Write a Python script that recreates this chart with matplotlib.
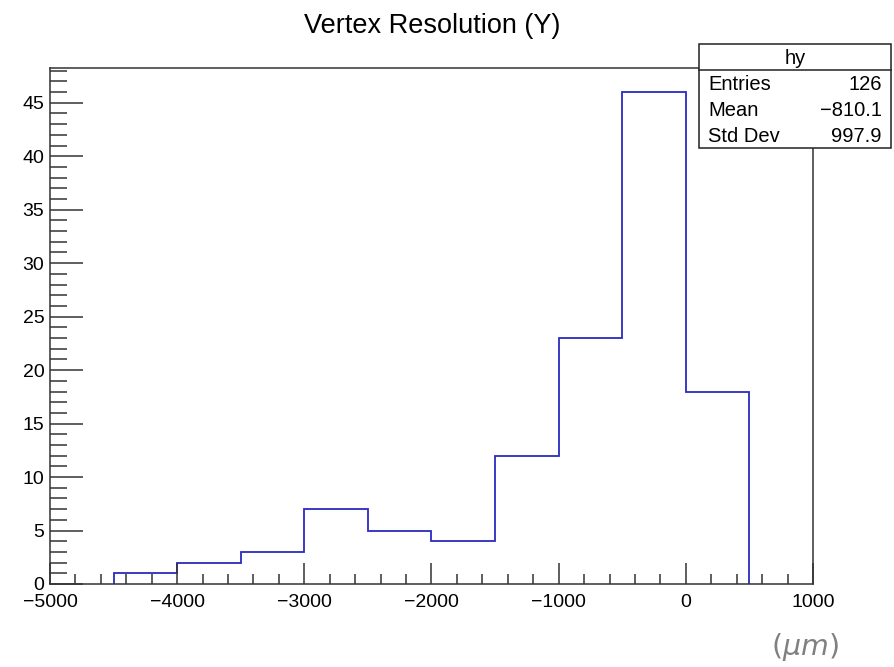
import matplotlib
matplotlib.use("Agg")
import matplotlib.pyplot as plt
import numpy as np
from matplotlib.ticker import MultipleLocator
from matplotlib.patches import Rectangle
from matplotlib.lines import Line2D

bin_edges = [-4500, -4000, -3500, -3000, -2500, -2000, -1500, -1000, -500, 0, 500]
counts = [1, 2, 3, 7, 5, 4, 12, 23, 46, 18]
stats_labels = ["Entries", "Mean", "Std Dev"]
stats_values = ["126", "\u2212810.1", "997.9"]
title = "Vertex Resolution (Y)"
hist_name = "hy"

W, H = 895, 667
plt.rcParams['font.family'] = ['Liberation Sans', 'DejaVu Sans']
fig = plt.figure(figsize=(W / 100, H / 100), dpi=100)

L, R, T, B = 50, 813, 67.5, 584
ax = fig.add_axes([L / W, 1 - B / H, (R - L) / W, (B - T) / H])
ax.stairs(counts, bin_edges, color='#2b2bbf', linewidth=1.3, baseline=0, fill=False)
ax.set_xlim(-5000, 1000)
ax.set_ylim(0, 48.3)
ax.xaxis.set_major_locator(MultipleLocator(1000))
ax.xaxis.set_minor_locator(MultipleLocator(200))
ax.yaxis.set_major_locator(MultipleLocator(5))
ax.yaxis.set_minor_locator(MultipleLocator(1))
ax.tick_params(axis='both', which='both', direction='in', top=False, right=False,
               labelsize=14, color='#333333', width=1.1)
ax.tick_params(axis='y', which='major', length=24, pad=4)
ax.tick_params(axis='y', which='minor', length=12.5)
ax.tick_params(axis='x', which='major', length=15, pad=7)
ax.tick_params(axis='x', which='minor', length=7.5)
for s in ax.spines.values():
    s.set_color('#333333')
    s.set_linewidth(1.1)
ax.set_yticks(np.arange(0, 46, 5))
ax.set_yticklabels([str(v) for v in np.arange(0, 46, 5)])
xt = np.arange(-5000, 1001, 1000)
ax.set_xticks(xt)
ax.set_xticklabels([str(v).replace('-', '\u2212') for v in xt])

fig.text(432 / W, 1 - 26 / H, title, ha='center', va='center', fontsize=19.5)

# stats box
bx0, bx1, by0, by1, sep = 699, 891, 44.3, 148, 69.5
fig.patches.append(Rectangle((bx0 / W, 1 - by1 / H), (bx1 - bx0) / W, (by1 - by0) / H,
                             transform=fig.transFigure, facecolor='white',
                             edgecolor='#222222', linewidth=1.1, zorder=5))
fig.lines.append(Line2D([bx0 / W, bx1 / W], [1 - sep / H, 1 - sep / H],
                        transform=fig.transFigure, color='#222222', linewidth=1.1, zorder=6))
fig.text((bx0 + bx1) / 2 / W, 1 - 58 / H, hist_name, ha='center', va='center',
         fontsize=14.5, zorder=7)
rows_y = [85, 110.5, 136]
for lab, val, yy in zip(stats_labels, stats_values, rows_y):
    fig.text(708 / W, 1 - yy / H, lab, ha='left', va='center', fontsize=14.5, zorder=7)
    fig.text(882 / W, 1 - yy / H, val, ha='right', va='center', fontsize=14.5, zorder=7)

fig.text(805 / W, 1 - 647 / H, r'$(\mu m)$', ha='center', va='center', fontsize=20.5,
         color='#808080', family='DejaVu Serif')

fig.savefig('out.png', dpi=100)
